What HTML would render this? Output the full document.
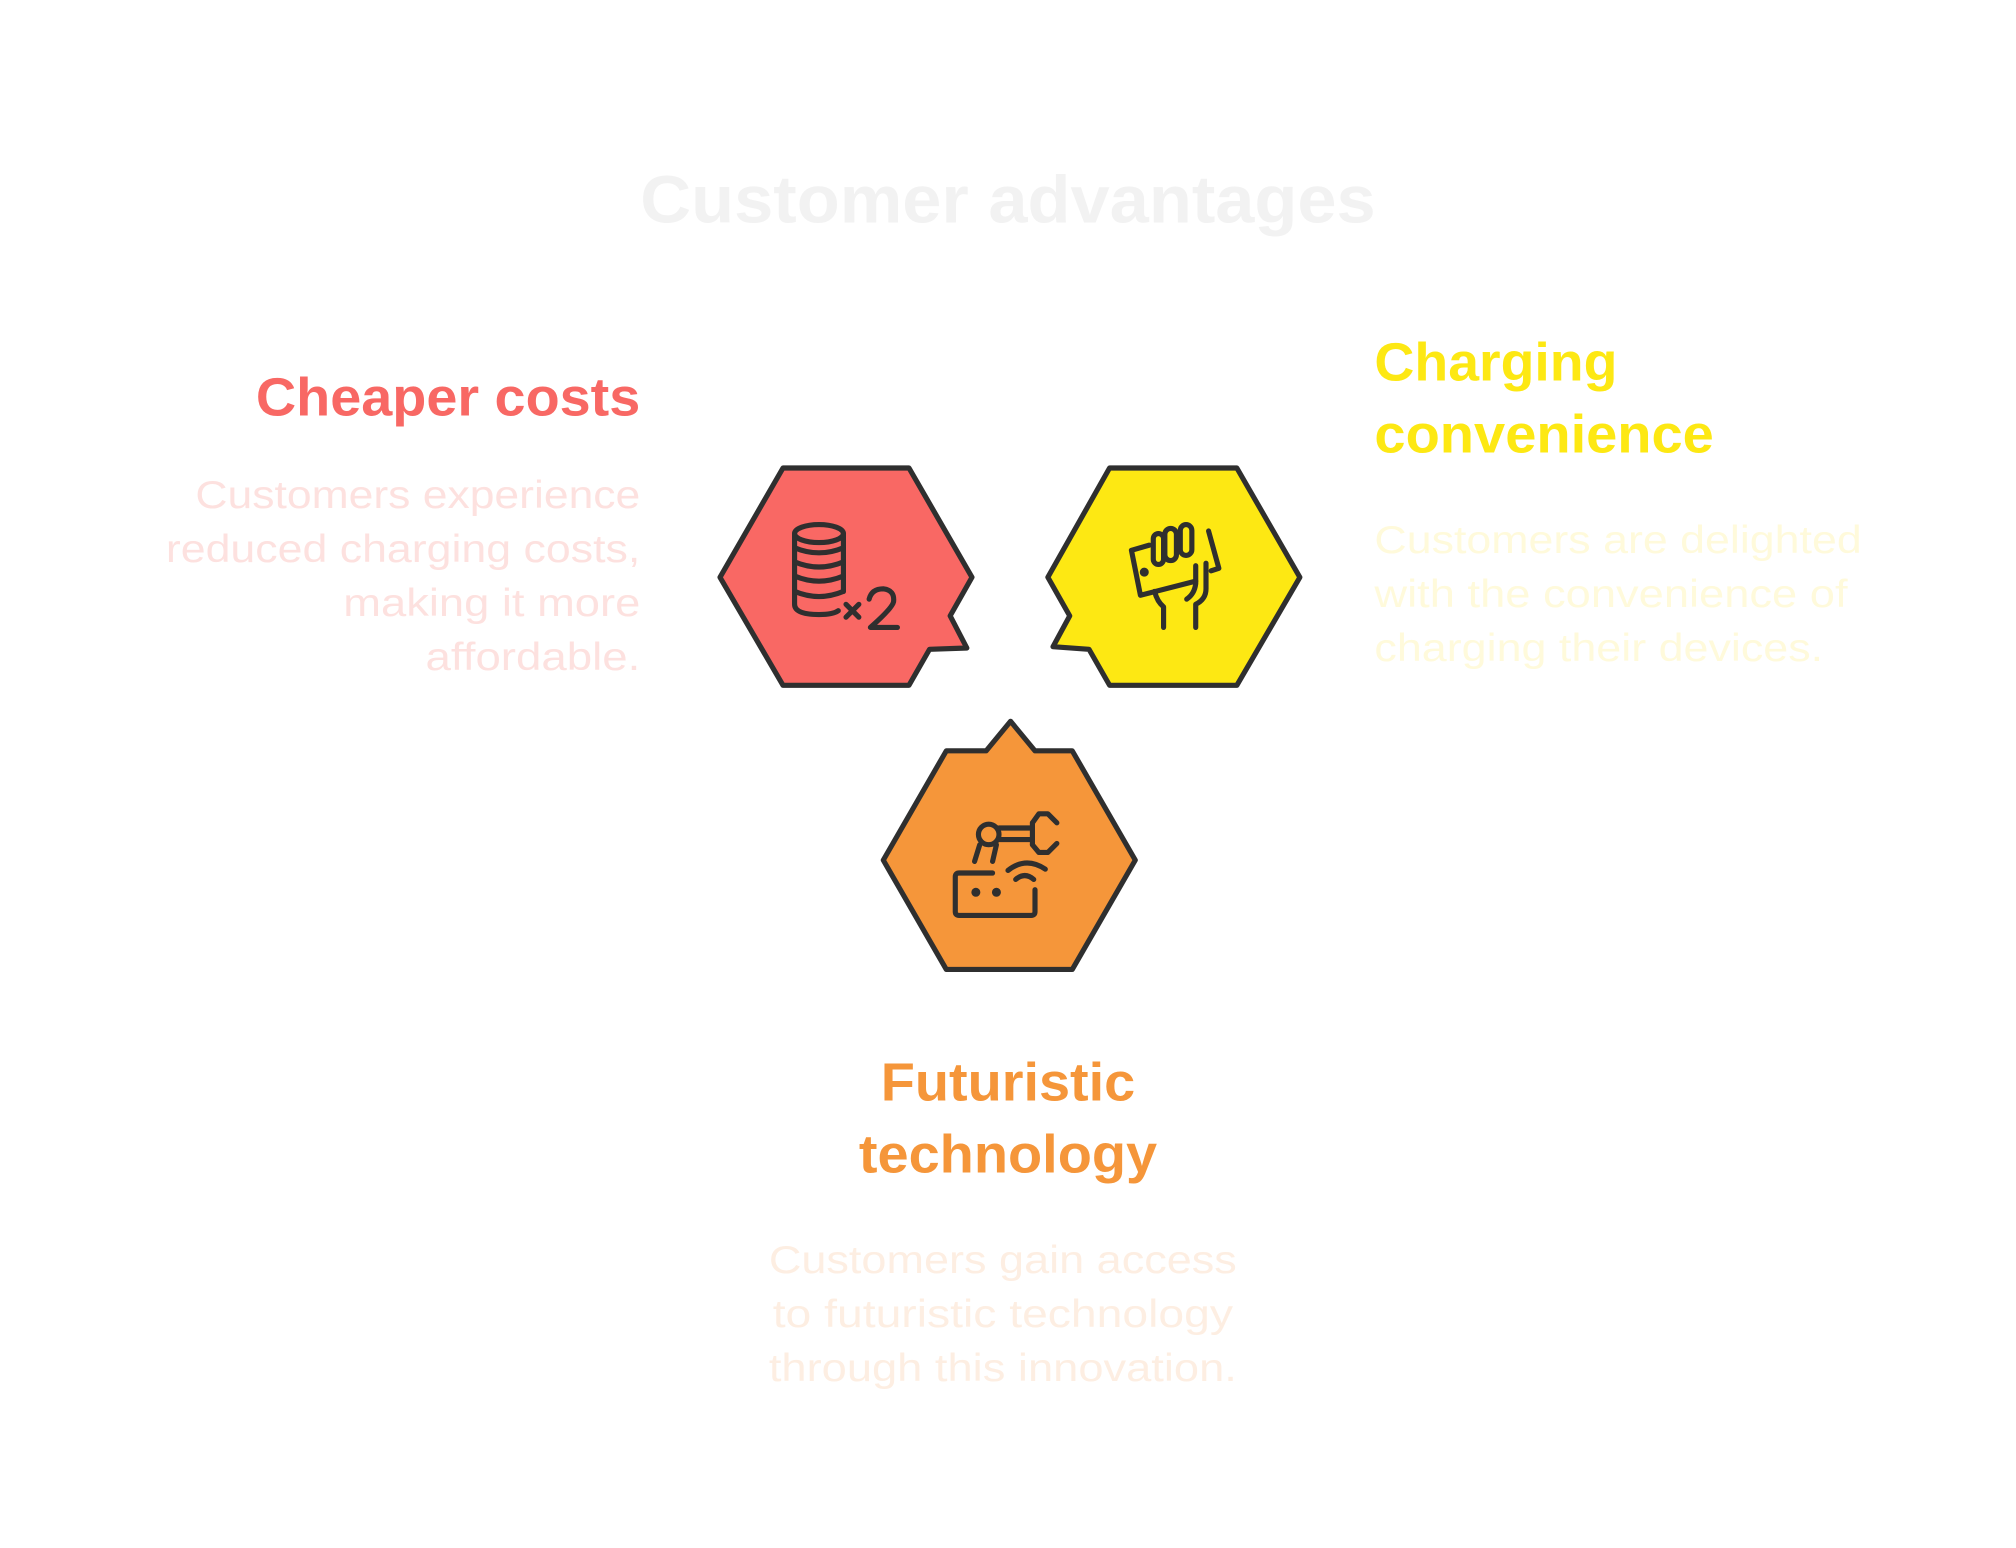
<!DOCTYPE html>
<html><head><meta charset="utf-8"><style>
html,body{margin:0;padding:0;background:#fff;}
svg{display:block;}
text{font-family:"Liberation Sans",sans-serif;}
</style></head><body>
<svg width="2016" height="1548" viewBox="0 0 1568 1204" xmlns="http://www.w3.org/2000/svg">
<rect width="1568" height="1204" fill="#fff"/>
<text x="784" y="173" text-anchor="middle" font-size="52" font-weight="bold" fill="#f2f2f2" textLength="572" lengthAdjust="spacingAndGlyphs">Customer advantages</text>

<text x="498" y="323" text-anchor="end" font-size="42" font-weight="bold" fill="#f86864" textLength="299" lengthAdjust="spacingAndGlyphs">Cheaper costs</text>
<g font-size="30" fill="#fde1df" text-anchor="end">
<text x="498" y="395" textLength="346" lengthAdjust="spacingAndGlyphs">Customers experience</text>
<text x="498" y="437" textLength="369" lengthAdjust="spacingAndGlyphs">reduced charging costs,</text>
<text x="498" y="479" textLength="231" lengthAdjust="spacingAndGlyphs">making it more</text>
<text x="498" y="521" textLength="167" lengthAdjust="spacingAndGlyphs">affordable.</text>
</g>

<text x="1069" y="296" font-size="42" font-weight="bold" fill="#fde813" textLength="189" lengthAdjust="spacingAndGlyphs">Charging</text>
<text x="1069" y="352" font-size="42" font-weight="bold" fill="#fde813" textLength="264" lengthAdjust="spacingAndGlyphs">convenience</text>
<g font-size="30" fill="#fffadb">
<text x="1069" y="430" textLength="379" lengthAdjust="spacingAndGlyphs">Customers are delighted</text>
<text x="1069" y="472" textLength="368" lengthAdjust="spacingAndGlyphs">with the convenience of</text>
<text x="1069" y="514" textLength="349" lengthAdjust="spacingAndGlyphs">charging their devices.</text>
</g>

<text x="784" y="856" text-anchor="middle" font-size="42" font-weight="bold" fill="#f5963a" textLength="198" lengthAdjust="spacingAndGlyphs">Futuristic</text>
<text x="784" y="912" text-anchor="middle" font-size="42" font-weight="bold" fill="#f5963a" textLength="232" lengthAdjust="spacingAndGlyphs">technology</text>
<g font-size="30" fill="#fdeee2" text-anchor="middle">
<text x="780" y="990" textLength="364" lengthAdjust="spacingAndGlyphs">Customers gain access</text>
<text x="780" y="1032" textLength="358" lengthAdjust="spacingAndGlyphs">to futuristic technology</text>
<text x="780" y="1074" textLength="364" lengthAdjust="spacingAndGlyphs">through this innovation.</text>
</g>

<g stroke="#2f2f2f" stroke-width="4" stroke-linejoin="round">
<polygon fill="#f96864" points="609,364 707,364 756,449 739,479 752,504 723,505 707,533 609,533 560,449"/>
<polygon fill="#fde813" points="863,364 962,364 1011,449 962,533 863,533 847,505 819,503 832,479 815,449"/>
<polygon fill="#f5963a" points="736,584 767,584 786,561 805,584 834,584 883,669 834,754 736,754 687,669"/>
</g>

<g fill="none" stroke="#2f2f2f" stroke-width="4" stroke-linecap="round" stroke-linejoin="round">
<ellipse cx="637" cy="415" rx="19" ry="7"/>
<path d="M618 415 V470 Q618 478 637 478 Q648 478 652 475"/>
<path d="M656 415 V460"/>
<path d="M618 426 Q637 434 656 426 M618 437 Q637 445 656 437 M618 448 Q637 456 656 448 M618 460 Q637 468 656 460"/>
<path d="M658 470 L668 480 M668 470 L658 480"/>
<path d="M676 466 Q678 458 687 458 Q696 459 695 468 Q694 473 677 488 H698"/>
<path d="M894 424 L880 428 L887 463 L930 452"/>
<path d="M940 413 L948 442 L942 444"/>
<rect x="897" y="415" width="8" height="24" rx="4"/>
<rect x="906" y="411" width="9" height="25" rx="4.5"/>
<rect x="918" y="408" width="9" height="24" rx="4.5"/>
<path d="M930 440 V454 Q929 462 923 466 M938 438 V458 Q938 466 930 470 V488"/>
<path d="M898 460 Q900 468 905 472 V488"/>
<circle cx="890" cy="445" r="1.5" fill="#2f2f2f"/>
<circle cx="769" cy="649" r="8"/>
<path d="M777 644 H803 M777 653 H803 M803 640 V657"/>
<path d="M803 640 L808 633 H815 L822 640 M803 657 L808 663 H815 L822 656"/>
<path d="M762 657 L758 670 M775 657 L772 670"/>
<path d="M772 679 H746 Q743 679 743 682 V709 Q743 712 746 712 H802 Q805 712 805 709 V692"/>
<path d="M784 677 Q798 666 813 676 M790 684 Q797 678 804 684"/>
<circle cx="759" cy="694" r="1.5" fill="#2f2f2f"/>
<circle cx="775" cy="694" r="1.5" fill="#2f2f2f"/>
</g>
</svg>
</body></html>
